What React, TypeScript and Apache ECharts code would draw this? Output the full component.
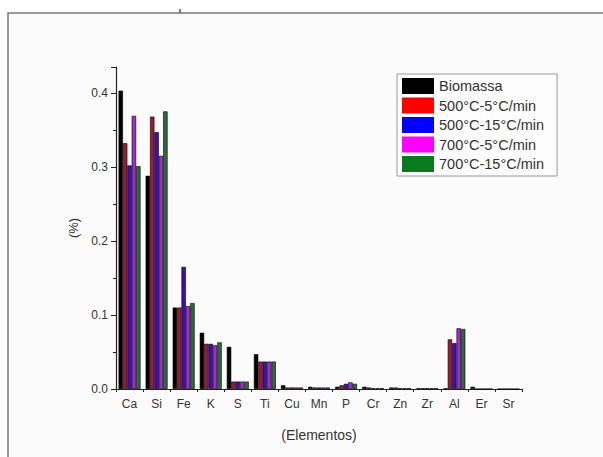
import React, { useEffect, useRef } from "react";
import * as echarts from "echarts";

const categories = ["Ca", "Si", "Fe", "K", "S", "Ti", "Cu", "Mn", "P", "Cr", "Zn", "Zr", "Al", "Er", "Sr"];
const seriesNames = ["Biomassa", "500°C-5°C/min", "500°C-15°C/min", "700°C-5°C/min", "700°C-15°C/min"];
const biomassa = [0.403, 0.288, 0.110, 0.076, 0.057, 0.047, 0.005, 0.003, 0.003, 0.003, 0.002, 0.001, 0.001, 0.003, 0.0];
const r500_5 = [0.332, 0.368, 0.110, 0.061, 0.010, 0.037, 0.002, 0.002, 0.005, 0.002, 0.002, 0.001, 0.067, 0.0, 0.0];
const r500_15 = [0.302, 0.347, 0.165, 0.061, 0.010, 0.037, 0.002, 0.002, 0.007, 0.001, 0.001, 0.001, 0.062, 0.0, 0.0];
const r700_5 = [0.369, 0.315, 0.112, 0.059, 0.010, 0.037, 0.002, 0.002, 0.009, 0.001, 0.001, 0.001, 0.082, 0.0, 0.0];
const r700_15 = [0.301, 0.375, 0.116, 0.063, 0.010, 0.037, 0.002, 0.002, 0.007, 0.001, 0.001, 0.001, 0.081, 0.0, 0.0];
const allValues = [biomassa, r500_5, r500_15, r700_5, r700_15];
const barColors = ["#000000", "#9b1b30", "#3c10b4", "#9a30c8", "#2f6a3a"];
const legendColors = ["#000000", "#ff0000", "#0000ff", "#ff00ff", "#0a7a1e"];

export default function App() {
  const ref = useRef<HTMLDivElement>(null);
  useEffect(() => {
    if (!ref.current) return;
    const chart = echarts.init(ref.current, null, { renderer: "svg" });
    const font = "Liberation Sans, Arial, sans-serif";
    chart.setOption({
      animation: false,
      backgroundColor: "#ffffff",
      textStyle: { fontFamily: font },
      graphic: [
        {
          type: "rect",
          shape: { x: 8, y: 13, width: 700, height: 500 },
          style: { fill: "#fbfbfb", stroke: "#7a7a7a", lineWidth: 1.5 },
          z: -10,
        },
        {
          type: "line",
          shape: { x1: 180, y1: 9, x2: 180, y2: 13 },
          style: { stroke: "#555", lineWidth: 1.5 },
        },
      ],
      legend: {
        orient: "vertical",
        left: 397,
        top: 74,
        icon: "rect",
        itemWidth: 32,
        itemHeight: 16,
        itemGap: 3.5,
        padding: [4, 13, 4, 5],
        borderColor: "#999",
        borderWidth: 1,
        backgroundColor: "#fdfdfd",
        selectedMode: false,
        textStyle: { fontSize: 14.5, color: "#333", fontFamily: font },
        data: seriesNames.map((n, i) => ({
          name: n,
          icon: "rect",
          itemStyle: { color: legendColors[i], borderWidth: 0 },
        })),
      },
      grid: { left: 116, right: 81, top: 67, bottom: 68 },
      xAxis: [
        {
          type: "category",
          data: categories,
          name: "(Elementos)",
          nameLocation: "middle",
          nameGap: 39,
          nameTextStyle: { fontSize: 14, color: "#333" },
          axisLine: { lineStyle: { color: "#222", width: 1.2 } },
          axisTick: { alignWithLabel: true, length: 6, lineStyle: { color: "#222" } },
          axisLabel: { fontSize: 12, color: "#333", margin: 9 },
        },
        {
          type: "category",
          data: categories,
          position: "bottom",
          axisLine: { show: false },
          axisTick: { show: true, alignWithLabel: false, length: 3, lineStyle: { color: "#222" } },
          axisLabel: { show: false },
        },
      ],
      yAxis: {
        type: "value",
        min: 0,
        max: 0.435,
        interval: 0.1,
        name: "(%)",
        nameLocation: "middle",
        nameGap: 36,
        nameRotate: 90,
        nameTextStyle: { fontSize: 13, color: "#333" },
        axisLine: { show: true, lineStyle: { color: "#222", width: 1.2 } },
        axisTick: { show: true, length: 5, lineStyle: { color: "#222" } },
        minorTick: { show: true, splitNumber: 2, length: 3, lineStyle: { color: "#222" } },
        splitLine: { show: false },
        axisLabel: {
          fontSize: 12,
          color: "#333",
          margin: 8,
          formatter: (v: number) => (v > 0.41 ? "" : v.toFixed(1)),
        },
      },
      series: seriesNames.map((n, i) => ({
        name: n,
        type: "bar",
        xAxisIndex: 0,
        data: allValues[i],
        barGap: "0%",
        barCategoryGap: "19%",
        itemStyle: { color: barColors[i], borderColor: "#000", borderWidth: 0.6 },
      })),
    });
    return () => chart.dispose();
  }, []);
  return (
    <div
      ref={ref}
      style={{ position: "fixed", left: 0, top: 0, width: 603, height: 457 }}
    />
  );
}
